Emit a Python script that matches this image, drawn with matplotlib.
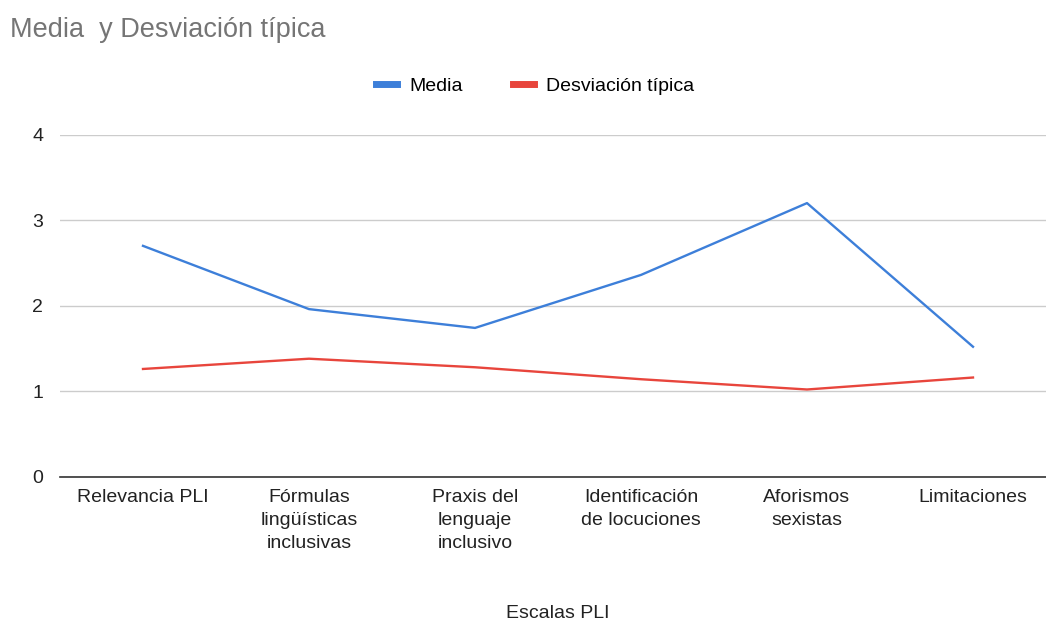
import matplotlib
matplotlib.use("Agg")
import matplotlib.pyplot as plt

plt.rcParams["font.family"] = ["Liberation Sans", "DejaVu Sans"]

# datos
escalas = ["Relevancia PLI", "Fórmulas\nlingüísticas\ninclusivas", "Praxis del\nlenguaje\ninclusivo",
           "Identificación\nde locuciones", "Aforismos\nsexistas", "Limitaciones"]
media = [2.70, 1.96, 1.74, 2.36, 3.20, 1.52]
desviacion = [1.26, 1.38, 1.28, 1.14, 1.02, 1.16]
yticks = [0, 1, 2, 3, 4]

W, H = 1046, 622
fig = plt.figure(figsize=(W / 100, H / 100), dpi=100)
ax = fig.add_axes([60 / W, 145.3 / H, 996 / W, 342 / H])

x = range(len(escalas))
ax.plot(x, media, color="#3d7fd9", lw=1.7, label="Media")
ax.plot(x, desviacion, color="#e8453c", lw=1.7, label="Desviación típica")

ax.set_xlim(-0.5, len(escalas) - 0.5)
ax.set_ylim(0, 4)
ax.set_yticks(yticks)
ax.set_xticks(list(x))
ax.set_xticklabels(escalas, fontsize=14, color="#222222", va="top", linespacing=1.45)
ax.tick_params(axis="x", length=0, pad=9)
ax.tick_params(axis="y", length=0, pad=12, labelsize=14, labelcolor="#222222")
ax.grid(axis="y", color="#cccccc", lw=1)
ax.set_axisbelow(True)
for s in ["top", "right", "left"]:
    ax.spines[s].set_visible(False)
ax.spines["bottom"].set_color("#333333")
ax.spines["bottom"].set_linewidth(1.2)
ax.set_xlabel("Escalas PLI", fontsize=14, color="#222222", labelpad=38)

fig.text(10 / W, 1 - 30 / H, "Media  y Desviación típica", fontsize=19.5, color="#757575", va="center")

fig.legend(loc="center", bbox_to_anchor=(535 / W, 1 - 86 / H), ncol=2, frameon=False,
           fontsize=14, handlelength=1.1, handletextpad=0.6, columnspacing=2.6)
for line in fig.legends[0].get_lines():
    line.set_linewidth(5)

fig.savefig("out.png", dpi=100)
